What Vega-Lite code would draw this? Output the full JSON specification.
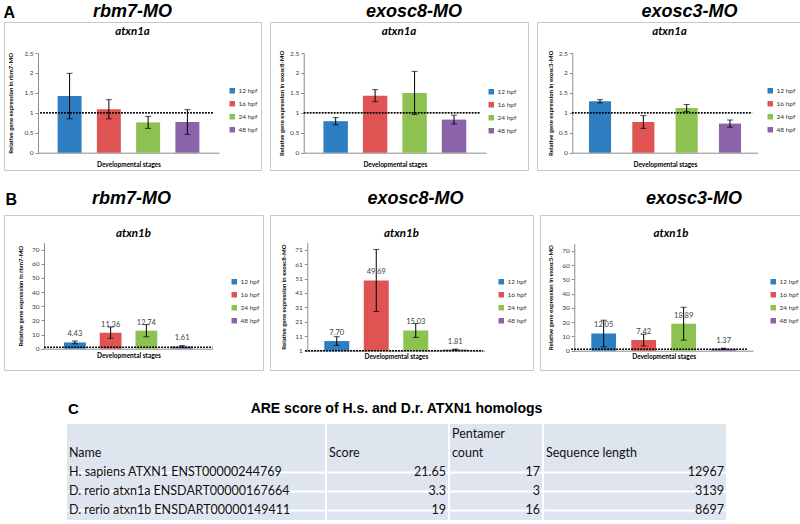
{
"$schema": "https://vega.github.io/schema/vega-lite/v6.json",
"padding": {"left": 3, "top": 2, "right": 0, "bottom": 0},
"background": "white",
"datasets": {
"bars": [
{"panel": "A1", "stage": "12 hpf", "value": 1.42, "err": 0.57},
{"panel": "A1", "stage": "16 hpf", "value": 1.09, "err": 0.24},
{"panel": "A1", "stage": "24 hpf", "value": 0.76, "err": 0.15},
{"panel": "A1", "stage": "48 hpf", "value": 0.77, "err": 0.31},
{"panel": "A2", "stage": "12 hpf", "value": 0.79, "err": 0.09},
{"panel": "A2", "stage": "16 hpf", "value": 1.43, "err": 0.15},
{"panel": "A2", "stage": "24 hpf", "value": 1.5, "err": 0.54},
{"panel": "A2", "stage": "48 hpf", "value": 0.83, "err": 0.11},
{"panel": "A3", "stage": "12 hpf", "value": 1.29, "err": 0.04},
{"panel": "A3", "stage": "16 hpf", "value": 0.77, "err": 0.16},
{"panel": "A3", "stage": "24 hpf", "value": 1.12, "err": 0.09},
{"panel": "A3", "stage": "48 hpf", "value": 0.73, "err": 0.09},
{"panel": "B1", "stage": "12 hpf", "value": 4.43, "err": 1.0},
{"panel": "B1", "stage": "16 hpf", "value": 11.36, "err": 4.0},
{"panel": "B1", "stage": "24 hpf", "value": 12.74, "err": 4.3},
{"panel": "B1", "stage": "48 hpf", "value": 1.61, "err": 0.6},
{"panel": "B2", "stage": "12 hpf", "value": 7.7, "err": 3.0},
{"panel": "B2", "stage": "16 hpf", "value": 49.69, "err": 21.5},
{"panel": "B2", "stage": "24 hpf", "value": 15.03, "err": 4.8},
{"panel": "B2", "stage": "48 hpf", "value": 1.81, "err": 0.3},
{"panel": "B3", "stage": "12 hpf", "value": 12.05, "err": 9.3},
{"panel": "B3", "stage": "16 hpf", "value": 7.42, "err": 4.1},
{"panel": "B3", "stage": "24 hpf", "value": 18.89, "err": 11.5},
{"panel": "B3", "stage": "48 hpf", "value": 1.37, "err": 0.4}
],
"table": [
{"col": "Name", "row": "h2", "text": "Name"},
{"col": "Name", "row": "r1", "text": "H. sapiens ATXN1 ENST00000244769"},
{"col": "Name", "row": "r2", "text": "D. rerio atxn1a ENSDART00000167664"},
{"col": "Name", "row": "r3", "text": "D. rerio atxn1b ENSDART00000149411"},
{"col": "Score", "row": "h2", "text": "Score"},
{"col": "Score", "row": "r1", "text": "21.65"},
{"col": "Score", "row": "r2", "text": "3.3"},
{"col": "Score", "row": "r3", "text": "19"},
{"col": "Pentamer", "row": "h1", "text": "Pentamer"},
{"col": "Pentamer", "row": "h2", "text": "count"},
{"col": "Pentamer", "row": "r1", "text": "17"},
{"col": "Pentamer", "row": "r2", "text": "3"},
{"col": "Pentamer", "row": "r3", "text": "16"},
{"col": "Length", "row": "h2", "text": "Sequence length"},
{"col": "Length", "row": "r1", "text": "12967"},
{"col": "Length", "row": "r2", "text": "3139"},
{"col": "Length", "row": "r3", "text": "8697"}
]
},
"config": {
"font": "Liberation Sans",
"view": {"stroke": null},
"title": {"color": "black"},
"axis": {"labelFont": "Lato", "labelFontSize": 6.5, "labelColor": "#404040", "domainColor": "#8c8c8c", "tickColor": "#8c8c8c", "tickSize": 3, "labelPadding": 2, "titleFont": "Lato", "titleFontSize": 6, "titleFontWeight": "bold", "titleColor": "black", "grid": false},
"legend": {"labelFont": "Lato", "labelFontSize": 6.5, "labelColor": "#333333", "symbolType": "square", "symbolSize": 30, "symbolStrokeWidth": 0, "rowPadding": 6, "labelOffset": 3},
"bar": {"stroke": null},
"text": {"font": "Lato"}
},
"spacing": 31,
"resolve": {"legend": {"color": "independent"}},
"vconcat": [
{
"spacing": 18,
"resolve": {"legend": {"color": "independent"}},
"vconcat": [
{
"title": {"text": "A", "anchor": "start", "offset": -18, "fontSize": 16, "fontWeight": "bold"},
"spacing": 7,
"resolve": {"legend": {"color": "independent"}},
"hconcat": [
{
"title": {"text": "rbm7-MO", "fontSize": 18, "fontWeight": "bold", "fontStyle": "italic", "anchor": "middle", "offset": 1, "dx": 0},
"resolve": {"legend": {"color": "independent"}},
"vconcat": [{
"width": 257, "height": 148,
"view": {"stroke": "#c8c8c8", "strokeWidth": 1},
"title": {"text": "atxn1a", "font": "Lato", "fontSize": 11.5, "fontWeight": "bold", "fontStyle": "italic", "anchor": "middle", "frame": "group", "offset": -15.5},
"data": {"name": "bars"},
"transform": [{"filter": "datum.panel === 'A1'"}],
"encoding": {
"x": {"field": "stage", "type": "nominal", "sort": null, "scale": {"range": [34, 215], "paddingInner": 0.39, "paddingOuter": 0.5}, "axis": {"labels": false, "ticks": false, "offset": -17.3, "title": "Developmental stages", "titlePadding": 9, "titleFontSize": 6.5}},
"y": {"field": "value", "type": "quantitative", "scale": {"domain": [0, 2.5], "range": [130.7, 31], "nice": false}, "axis": {"values": [0, 0.5, 1, 1.5, 2, 2.5], "format": "~g", "offset": -34, "title": "Relative gene expression in rbm7-MO", "titlePadding": 10}}
},
"layer": [
{"mark": {"type": "bar"}, "encoding": {"color": {"field": "stage", "type": "nominal", "scale": {"domain": ["12 hpf", "16 hpf", "24 hpf", "48 hpf"], "range": ["#2E7EC2", "#E05353", "#8DC152", "#8B63A8"]}, "legend": {"orient": "none", "legendX": 225, "legendY": 65.5, "title": null}}}},
{"mark": {"type": "rule", "color": "black", "strokeDash": [1.5, 1.5], "strokeWidth": 0.9}, "encoding": {"x": {"datum": "12 hpf", "type": "nominal", "bandPosition": -0.73}, "x2": {"datum": "48 hpf", "bandPosition": 1.6}, "y": {"datum": 1, "type": "quantitative"}}},
{"mark": {"type": "errorbar", "ticks": {"size": 6, "color": "black"}, "rule": {"color": "black", "strokeWidth": 1}}, "encoding": {"yError": {"field": "err"}}}
]
}]
},
{
"title": {"text": "exosc8-MO", "fontSize": 18, "fontWeight": "bold", "fontStyle": "italic", "anchor": "middle", "offset": 1, "dx": 15},
"resolve": {"legend": {"color": "independent"}},
"vconcat": [{
"width": 258, "height": 148,
"view": {"stroke": "#c8c8c8", "strokeWidth": 1},
"title": {"text": "atxn1a", "font": "Lato", "fontSize": 11.5, "fontWeight": "bold", "fontStyle": "italic", "anchor": "middle", "frame": "group", "offset": -15.5},
"data": {"name": "bars"},
"transform": [{"filter": "datum.panel === 'A2'"}],
"encoding": {
"x": {"field": "stage", "type": "nominal", "sort": null, "scale": {"range": [33.7, 216], "paddingInner": 0.38, "paddingOuter": 0.5}, "axis": {"labels": false, "ticks": false, "offset": -17.3, "title": "Developmental stages", "titlePadding": 9, "titleFontSize": 6.5}},
"y": {"field": "value", "type": "quantitative", "scale": {"domain": [0, 2.5], "range": [130.7, 31], "nice": false}, "axis": {"values": [0, 0.5, 1, 1.5, 2, 2.5], "format": "~g", "offset": -33.7, "title": "Relative gene expression in exosc8-MO", "titlePadding": 5}}
},
"layer": [
{"mark": {"type": "bar"}, "encoding": {"color": {"field": "stage", "type": "nominal", "scale": {"domain": ["12 hpf", "16 hpf", "24 hpf", "48 hpf"], "range": ["#2E7EC2", "#E05353", "#8DC152", "#8B63A8"]}, "legend": {"orient": "none", "legendX": 218, "legendY": 66.5, "title": null}}}},
{"mark": {"type": "rule", "color": "black", "strokeDash": [1.5, 1.5], "strokeWidth": 0.9}, "encoding": {"x": {"datum": "12 hpf", "type": "nominal", "bandPosition": -0.8}, "x2": {"datum": "48 hpf", "bandPosition": 1.58}, "y": {"datum": 1, "type": "quantitative"}}},
{"mark": {"type": "errorbar", "ticks": {"size": 6, "color": "black"}, "rule": {"color": "black", "strokeWidth": 1}}, "encoding": {"yError": {"field": "err"}}}
]
}]
},
{
"title": {"text": "exosc3-MO", "fontSize": 18, "fontWeight": "bold", "fontStyle": "italic", "anchor": "middle", "offset": 1, "dx": 20},
"resolve": {"legend": {"color": "independent"}},
"vconcat": [{
"width": 265, "height": 148,
"view": {"stroke": "#c8c8c8", "strokeWidth": 1},
"title": {"text": "atxn1a", "font": "Lato", "fontSize": 11.5, "fontWeight": "bold", "fontStyle": "italic", "anchor": "middle", "frame": "group", "offset": -15.5},
"data": {"name": "bars"},
"transform": [{"filter": "datum.panel === 'A3'"}],
"encoding": {
"x": {"field": "stage", "type": "nominal", "sort": null, "scale": {"range": [35.3, 220.7], "paddingInner": 0.49, "paddingOuter": 0.385}, "axis": {"labels": false, "ticks": false, "offset": -17.3, "title": "Developmental stages", "titlePadding": 9, "titleFontSize": 6.5}},
"y": {"field": "value", "type": "quantitative", "scale": {"domain": [0, 2.5], "range": [130.7, 31], "nice": false}, "axis": {"values": [0, 0.5, 1, 1.5, 2, 2.5], "format": "~g", "offset": -35.3, "title": "Relative gene expression in exosc3-MO", "titlePadding": 5}}
},
"layer": [
{"mark": {"type": "bar"}, "encoding": {"color": {"field": "stage", "type": "nominal", "scale": {"domain": ["12 hpf", "16 hpf", "24 hpf", "48 hpf"], "range": ["#2E7EC2", "#E05353", "#8DC152", "#8B63A8"]}, "legend": {"orient": "none", "legendX": 230, "legendY": 65.5, "title": null}}}},
{"mark": {"type": "rule", "color": "black", "strokeDash": [1.5, 1.5], "strokeWidth": 0.9}, "encoding": {"x": {"datum": "12 hpf", "type": "nominal", "bandPosition": -0.77}, "x2": {"datum": "48 hpf", "bandPosition": 1.5}, "y": {"datum": 1, "type": "quantitative"}}},
{"mark": {"type": "errorbar", "ticks": {"size": 6, "color": "black"}, "rule": {"color": "black", "strokeWidth": 1}}, "encoding": {"yError": {"field": "err"}}}
]
}]
}
]
},
{
"title": {"text": "B", "anchor": "start", "offset": -18, "fontSize": 16, "fontWeight": "bold", "dx": 2},
"spacing": 5,
"resolve": {"legend": {"color": "independent"}},
"hconcat": [
{
"title": {"text": "rbm7-MO", "fontSize": 18, "fontWeight": "bold", "fontStyle": "italic", "anchor": "middle", "offset": 7, "dx": -2},
"resolve": {"legend": {"color": "independent"}},
"vconcat": [{
"width": 259, "height": 155,
"view": {"stroke": "#c8c8c8", "strokeWidth": 1},
"title": {"text": "atxn1b", "font": "Lato", "fontSize": 11.5, "fontWeight": "bold", "fontStyle": "italic", "anchor": "middle", "frame": "group", "offset": -24},
"data": {"name": "bars"},
"transform": [{"filter": "datum.panel === 'B1'"}],
"encoding": {
"x": {"field": "stage", "type": "nominal", "sort": null, "scale": {"range": [40, 209], "paddingInner": 0.39, "paddingOuter": 0.56}, "axis": {"labels": false, "ticks": false, "offset": -21.3, "title": "Developmental stages", "titlePadding": 4, "titleFontSize": 6.5}},
"y": {"field": "value", "type": "quantitative", "scale": {"domain": [0, 75], "range": [133.7, 27.6], "nice": false}, "axis": {"values": [0, 10, 20, 30, 40, 50, 60, 70], "offset": -40, "title": "Relative gene expression in rbm7-MO", "titlePadding": 8}}
},
"layer": [
{"mark": {"type": "bar"}, "encoding": {"color": {"field": "stage", "type": "nominal", "scale": {"domain": ["12 hpf", "16 hpf", "24 hpf", "48 hpf"], "range": ["#2E7EC2", "#E05353", "#8DC152", "#8B63A8"]}, "legend": {"orient": "none", "legendX": 227, "legendY": 63.5, "title": null}}}},
{"mark": {"type": "rule", "color": "black", "strokeDash": [1.5, 1.5], "strokeWidth": 0.9}, "encoding": {"x": {"datum": "12 hpf", "type": "nominal", "bandPosition": -0.9}, "x2": {"datum": "48 hpf", "bandPosition": 1.9}, "y": {"datum": 1, "type": "quantitative"}}},
{"mark": {"type": "errorbar", "ticks": {"size": 6, "color": "black"}, "rule": {"color": "black", "strokeWidth": 1}}, "encoding": {"yError": {"field": "err"}}},
{"mark": {"type": "text", "baseline": "bottom", "dy": -4, "fontSize": 7.5, "color": "#404040", "fill": "#404040"}, "encoding": {"text": {"field": "value", "type": "quantitative", "format": ".2f"}}}
]
}]
},
{
"title": {"text": "exosc8-MO", "fontSize": 18, "fontWeight": "bold", "fontStyle": "italic", "anchor": "middle", "offset": 7, "dx": 14},
"resolve": {"legend": {"color": "independent"}},
"vconcat": [{
"width": 263, "height": 155,
"view": {"stroke": "#c8c8c8", "strokeWidth": 1},
"title": {"text": "atxn1b", "font": "Lato", "fontSize": 11.5, "fontWeight": "bold", "fontStyle": "italic", "anchor": "middle", "frame": "group", "offset": -24},
"data": {"name": "bars"},
"transform": [{"filter": "datum.panel === 'B2'"}],
"encoding": {
"x": {"field": "stage", "type": "nominal", "sort": null, "scale": {"range": [37.3, 214.7], "paddingInner": 0.367, "paddingOuter": 0.43}, "axis": {"labels": false, "ticks": false, "offset": -19.3, "title": "Developmental stages", "titlePadding": 3, "titleFontSize": 6.5}},
"y": {"field": "value", "type": "quantitative", "scale": {"domain": [1, 76], "range": [135.7, 27.5], "nice": false, "zero": false}, "axis": {"values": [1, 11, 21, 31, 41, 51, 61, 71], "offset": -37.3, "title": "Relative gene expression in exosc8-MO", "titlePadding": 8}}
},
"layer": [
{"mark": {"type": "bar"}, "encoding": {"y2": {"datum": 1}, "color": {"field": "stage", "type": "nominal", "scale": {"domain": ["12 hpf", "16 hpf", "24 hpf", "48 hpf"], "range": ["#2E7EC2", "#E05353", "#8DC152", "#8B63A8"]}, "legend": {"orient": "none", "legendX": 228, "legendY": 63.5, "title": null}}}},
{"mark": {"type": "rule", "color": "black", "strokeDash": [1.5, 1.5], "strokeWidth": 0.9}, "encoding": {"x": {"datum": "12 hpf", "type": "nominal", "bandPosition": -0.76}, "x2": {"datum": "48 hpf", "bandPosition": 1.6}, "y": {"datum": 1, "type": "quantitative"}}},
{"mark": {"type": "errorbar", "ticks": {"size": 6, "color": "black"}, "rule": {"color": "black", "strokeWidth": 1}}, "encoding": {"yError": {"field": "err"}}},
{"mark": {"type": "text", "baseline": "bottom", "dy": -4, "fontSize": 7.5, "color": "#404040", "fill": "#404040"}, "encoding": {"text": {"field": "value", "type": "quantitative", "format": ".2f"}}}
]
}]
},
{
"title": {"text": "exosc3-MO", "fontSize": 18, "fontWeight": "bold", "fontStyle": "italic", "anchor": "middle", "offset": 7, "dx": 23},
"resolve": {"legend": {"color": "independent"}},
"vconcat": [{
"width": 262, "height": 155,
"view": {"stroke": "#c8c8c8", "strokeWidth": 1},
"title": {"text": "atxn1b", "font": "Lato", "fontSize": 11.5, "fontWeight": "bold", "fontStyle": "italic", "anchor": "middle", "frame": "group", "offset": -24},
"data": {"name": "bars"},
"transform": [{"filter": "datum.panel === 'B3'"}],
"encoding": {
"x": {"field": "stage", "type": "nominal", "sort": null, "scale": {"range": [34.3, 213], "paddingInner": 0.38, "paddingOuter": 0.425}, "axis": {"labels": false, "ticks": false, "offset": -19.3, "title": "Developmental stages", "titlePadding": 3, "titleFontSize": 6.5}},
"y": {"field": "value", "type": "quantitative", "scale": {"domain": [0, 75], "range": [135.7, 28.6], "nice": false}, "axis": {"values": [0, 10, 20, 30, 40, 50, 60, 70], "offset": -34.3, "title": "Relative gene expression in exosc3-MO", "titlePadding": 8}}
},
"layer": [
{"mark": {"type": "bar"}, "encoding": {"color": {"field": "stage", "type": "nominal", "scale": {"domain": ["12 hpf", "16 hpf", "24 hpf", "48 hpf"], "range": ["#2E7EC2", "#E05353", "#8DC152", "#8B63A8"]}, "legend": {"orient": "none", "legendX": 230, "legendY": 63.5, "title": null}}}},
{"mark": {"type": "rule", "color": "black", "strokeDash": [1.5, 1.5], "strokeWidth": 0.9}, "encoding": {"x": {"datum": "12 hpf", "type": "nominal", "bandPosition": -0.8}, "x2": {"datum": "48 hpf", "bandPosition": 1.5}, "y": {"datum": 1, "type": "quantitative"}}},
{"mark": {"type": "errorbar", "ticks": {"size": 6, "color": "black"}, "rule": {"color": "black", "strokeWidth": 1}}, "encoding": {"yError": {"field": "err"}}},
{"mark": {"type": "text", "baseline": "bottom", "dy": -4, "fontSize": 7.5, "color": "#404040", "fill": "#404040"}, "encoding": {"text": {"field": "value", "type": "quantitative", "format": ".2f"}}}
]
}]
}
]
}
]
},
{
"spacing": 62,
"hconcat": [
{"width": 1, "height": 10, "data": {"values": []}, "mark": "point"},
{
"title": {"text": "C", "anchor": "start", "offset": -15, "fontSize": 15, "fontWeight": "bold", "dx": 1},
"vconcat": [{
"title": {"text": "ARE score of H.s. and D.r. ATXN1 homologs", "fontSize": 14, "fontWeight": "bold", "anchor": "middle", "offset": 8},
"spacing": 2,
"hconcat": [
{
"width": 258, "height": 96,
"view": {"fill": "#dfe5ef", "stroke": null},
"data": {"name": "table"},
"transform": [{"filter": "datum.col === 'Name'"}],
"encoding": {
"y": {"field": "row", "type": "ordinal", "scale": {"domain": ["h1", "h2", "r1", "r2", "r3"], "paddingInner": 0, "paddingOuter": 0}, "axis": {"values": ["r1", "r2", "r3"], "bandPosition": 0, "grid": true, "gridColor": "white", "gridWidth": 2, "gridOpacity": 1, "labels": false, "ticks": false, "domain": false, "title": null}},
"x": {"datum": 0, "type": "quantitative", "scale": {"domain": [0, 1]}, "axis": null},
"text": {"field": "text", "type": "nominal"}
},
"mark": {"type": "text", "align": "left", "dx": 2, "font": "Lato", "fontSize": 12.5, "color": "#111111"}
},
{
"width": 121, "height": 96,
"view": {"fill": "#dfe5ef", "stroke": null},
"data": {"name": "table"},
"transform": [{"filter": "datum.col === 'Score'"}],
"encoding": {
"y": {"field": "row", "type": "ordinal", "scale": {"domain": ["h1", "h2", "r1", "r2", "r3"], "paddingInner": 0, "paddingOuter": 0}, "axis": {"values": ["r1", "r2", "r3"], "bandPosition": 0, "grid": true, "gridColor": "white", "gridWidth": 2, "gridOpacity": 1, "labels": false, "ticks": false, "domain": false, "title": null}},
"text": {"field": "text", "type": "nominal"}
},
"layer": [
{"transform": [{"filter": "datum.row === 'h1' || datum.row === 'h2'"}], "mark": {"type": "text", "align": "left", "dx": 2, "font": "Lato", "fontSize": 12.5, "color": "#111111"}, "encoding": {"x": {"datum": 0, "type": "quantitative", "scale": {"domain": [0, 1]}, "axis": null}}},
{"transform": [{"filter": "datum.row !== 'h1' && datum.row !== 'h2'"}], "mark": {"type": "text", "align": "right", "dx": -2, "font": "Lato", "fontSize": 12.5, "color": "#111111"}, "encoding": {"x": {"datum": 1, "type": "quantitative", "scale": {"domain": [0, 1]}, "axis": null}}}
]
},
{
"width": 92, "height": 96,
"view": {"fill": "#dfe5ef", "stroke": null},
"data": {"name": "table"},
"transform": [{"filter": "datum.col === 'Pentamer'"}],
"encoding": {
"y": {"field": "row", "type": "ordinal", "scale": {"domain": ["h1", "h2", "r1", "r2", "r3"], "paddingInner": 0, "paddingOuter": 0}, "axis": {"values": ["r1", "r2", "r3"], "bandPosition": 0, "grid": true, "gridColor": "white", "gridWidth": 2, "gridOpacity": 1, "labels": false, "ticks": false, "domain": false, "title": null}},
"text": {"field": "text", "type": "nominal"}
},
"layer": [
{"transform": [{"filter": "datum.row === 'h1' || datum.row === 'h2'"}], "mark": {"type": "text", "align": "left", "dx": 2, "font": "Lato", "fontSize": 12.5, "color": "#111111"}, "encoding": {"x": {"datum": 0, "type": "quantitative", "scale": {"domain": [0, 1]}, "axis": null}}},
{"transform": [{"filter": "datum.row !== 'h1' && datum.row !== 'h2'"}], "mark": {"type": "text", "align": "right", "dx": -2, "font": "Lato", "fontSize": 12.5, "color": "#111111"}, "encoding": {"x": {"datum": 1, "type": "quantitative", "scale": {"domain": [0, 1]}, "axis": null}}}
]
},
{
"width": 182, "height": 96,
"view": {"fill": "#dfe5ef", "stroke": null},
"data": {"name": "table"},
"transform": [{"filter": "datum.col === 'Length'"}],
"encoding": {
"y": {"field": "row", "type": "ordinal", "scale": {"domain": ["h1", "h2", "r1", "r2", "r3"], "paddingInner": 0, "paddingOuter": 0}, "axis": {"values": ["r1", "r2", "r3"], "bandPosition": 0, "grid": true, "gridColor": "white", "gridWidth": 2, "gridOpacity": 1, "labels": false, "ticks": false, "domain": false, "title": null}},
"text": {"field": "text", "type": "nominal"}
},
"layer": [
{"transform": [{"filter": "datum.row === 'h1' || datum.row === 'h2'"}], "mark": {"type": "text", "align": "left", "dx": 2, "font": "Lato", "fontSize": 12.5, "color": "#111111"}, "encoding": {"x": {"datum": 0, "type": "quantitative", "scale": {"domain": [0, 1]}, "axis": null}}},
{"transform": [{"filter": "datum.row !== 'h1' && datum.row !== 'h2'"}], "mark": {"type": "text", "align": "right", "dx": -2, "font": "Lato", "fontSize": 12.5, "color": "#111111"}, "encoding": {"x": {"datum": 1, "type": "quantitative", "scale": {"domain": [0, 1]}, "axis": null}}}
]
}
]
}]
}
]
}
]
}
